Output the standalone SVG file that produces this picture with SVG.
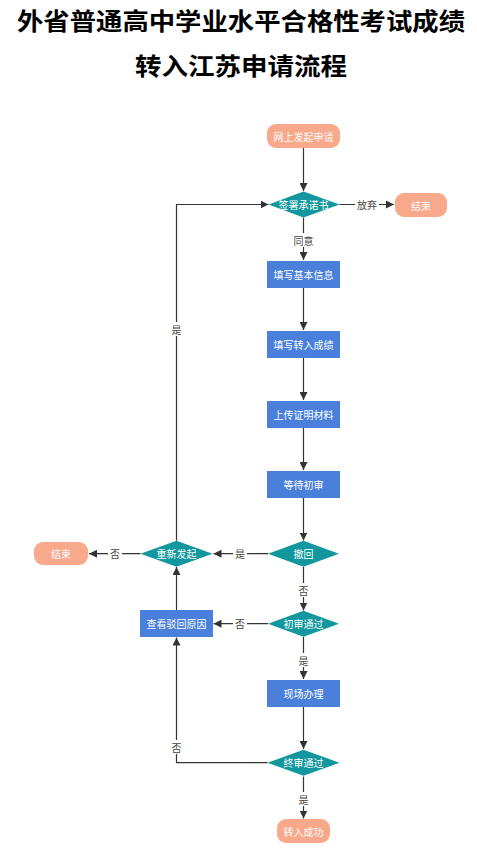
<svg xmlns="http://www.w3.org/2000/svg" width="477" height="850" viewBox="0 0 477 850">
<style>
.title{font-family:"Noto Sans CJK SC","Noto Sans",sans-serif;font-weight:bold;font-size:24px;fill:#000;text-anchor:middle}
.t{font-family:"Noto Sans CJK SC","Noto Sans",sans-serif;font-size:10px;fill:#fff;text-anchor:middle;dominant-baseline:central}
.lbl{font-family:"Noto Sans CJK SC","Noto Sans",sans-serif;font-size:10px;fill:#444;text-anchor:middle;dominant-baseline:central}
.pill{fill:#F8A88B}
.box{fill:#4A80DB}
.dia{fill:#12979E}
.e{fill:none;stroke:#333;stroke-width:1.2;marker-end:url(#ah)}
.lb{fill:#fff}
</style>
<defs>
<marker id="ah" viewBox="0 0 10 10" refX="10" refY="5" markerWidth="8" markerHeight="8" markerUnits="userSpaceOnUse" orient="auto">
<path d="M0,0 L10,5 L0,10 z" fill="#333"/>
</marker>
</defs>
<rect width="477" height="850" fill="#fff"/>
<text class="title" x="241" y="30" textLength="448" lengthAdjust="spacingAndGlyphs">外省普通高中学业水平合格性考试成绩</text>
<text class="title" x="241" y="75" textLength="212" lengthAdjust="spacingAndGlyphs">转入江苏申请流程</text>

<g id="edges">
<path class="e" d="M303.5,148 V191"/>
<path class="e" d="M339.5,204.5 H394"/>
<path class="e" d="M303.5,217.5 V260"/>
<path class="e" d="M303.5,288 V330"/>
<path class="e" d="M303.5,358 V400"/>
<path class="e" d="M303.5,428 V470"/>
<path class="e" d="M303.5,498 V540.5"/>
<path class="e" d="M268,553.7 H213.5"/>
<path class="e" d="M140.5,553.7 H89"/>
<path class="e" d="M176.5,540.7 V204.5 H268.5"/>
<path class="e" d="M303.5,567 V610.5"/>
<path class="e" d="M268,623.7 H213.5"/>
<path class="e" d="M176.5,610 V567"/>
<path class="e" d="M303.5,637 V679"/>
<path class="e" d="M303.5,707 V749"/>
<path class="e" d="M267.5,762.7 H176.5 V637.5"/>
<path class="e" d="M303.5,776.5 V818.5"/>
<rect class="lb" x="355" y="197" width="24" height="14"/>
<text class="lbl" x="367" y="204.5">放弃</text>
<rect class="lb" x="291" y="233" width="25" height="14"/>
<text class="lbl" x="303.5" y="240">同意</text>
<rect class="lb" x="170" y="322" width="13" height="14"/>
<text class="lbl" x="176.5" y="329">是</text>
<rect class="lb" x="233" y="547" width="14" height="14"/>
<text class="lbl" x="240" y="553.7">是</text>
<rect class="lb" x="108" y="547" width="14" height="14"/>
<text class="lbl" x="115" y="553.7">否</text>
<rect class="lb" x="297" y="583" width="13" height="14"/>
<text class="lbl" x="303.5" y="590">否</text>
<rect class="lb" x="233" y="617" width="14" height="14"/>
<text class="lbl" x="240" y="623.7">否</text>
<rect class="lb" x="297" y="653" width="13" height="14"/>
<text class="lbl" x="303.5" y="660">是</text>
<rect class="lb" x="170" y="740" width="13" height="14"/>
<text class="lbl" x="176.5" y="747">否</text>
<rect class="lb" x="297" y="792" width="13" height="14"/>
<text class="lbl" x="303.5" y="799">是</text>
</g>

<g id="n_start"><rect class="pill" x="267" y="124" width="73" height="24" rx="9"/><text class="t" x="303.5" y="136">网上发起申请</text></g>
<g id="n_sign"><polygon class="dia" points="268.5,204.5 303.5,191.5 339.5,204.5 303.5,217.5"/><text class="t" x="303.5" y="204.5">签署承诺书</text></g>
<g id="n_end1"><rect class="pill" x="395" y="193" width="52" height="24" rx="9"/><text class="t" x="421" y="205">结束</text></g>
<g id="n_basic"><rect class="box" x="267" y="261" width="73" height="27"/><text class="t" x="303.5" y="274.5">填写基本信息</text></g>
<g id="n_score"><rect class="box" x="267" y="331" width="73" height="27"/><text class="t" x="303.5" y="344.5">填写转入成绩</text></g>
<g id="n_upload"><rect class="box" x="267" y="401" width="73" height="27"/><text class="t" x="303.5" y="414.5">上传证明材料</text></g>
<g id="n_wait"><rect class="box" x="267" y="471" width="73" height="27"/><text class="t" x="303.5" y="484.5">等待初审</text></g>
<g id="n_withdraw"><polygon class="dia" points="268,553.7 303.5,540.7 339,553.7 303.5,566.7"/><text class="t" x="303.5" y="553.7">撤回</text></g>
<g id="n_restart"><polygon class="dia" points="140.5,553.7 176.5,540.7 212.5,553.7 176.5,566.7"/><text class="t" x="176.5" y="553.7">重新发起</text></g>
<g id="n_end2"><rect class="pill" x="34" y="542" width="54" height="23" rx="9"/><text class="t" x="61" y="553.5">结束</text></g>
<g id="n_first"><polygon class="dia" points="268,623.7 303.5,610.7 339,623.7 303.5,636.7"/><text class="t" x="303.5" y="623.7">初审通过</text></g>
<g id="n_reason"><rect class="box" x="140" y="610" width="73" height="27"/><text class="t" x="176.5" y="623.5">查看驳回原因</text></g>
<g id="n_onsite"><rect class="box" x="267" y="680" width="73" height="27"/><text class="t" x="303.5" y="693.5">现场办理</text></g>
<g id="n_final"><polygon class="dia" points="267.5,762.7 303.5,749.7 339.5,762.7 303.5,775.7"/><text class="t" x="303.5" y="762.7">终审通过</text></g>
<g id="n_success"><rect class="pill" x="277" y="819" width="53" height="24" rx="9"/><text class="t" x="303.5" y="831">转入成功</text></g>
</svg>
